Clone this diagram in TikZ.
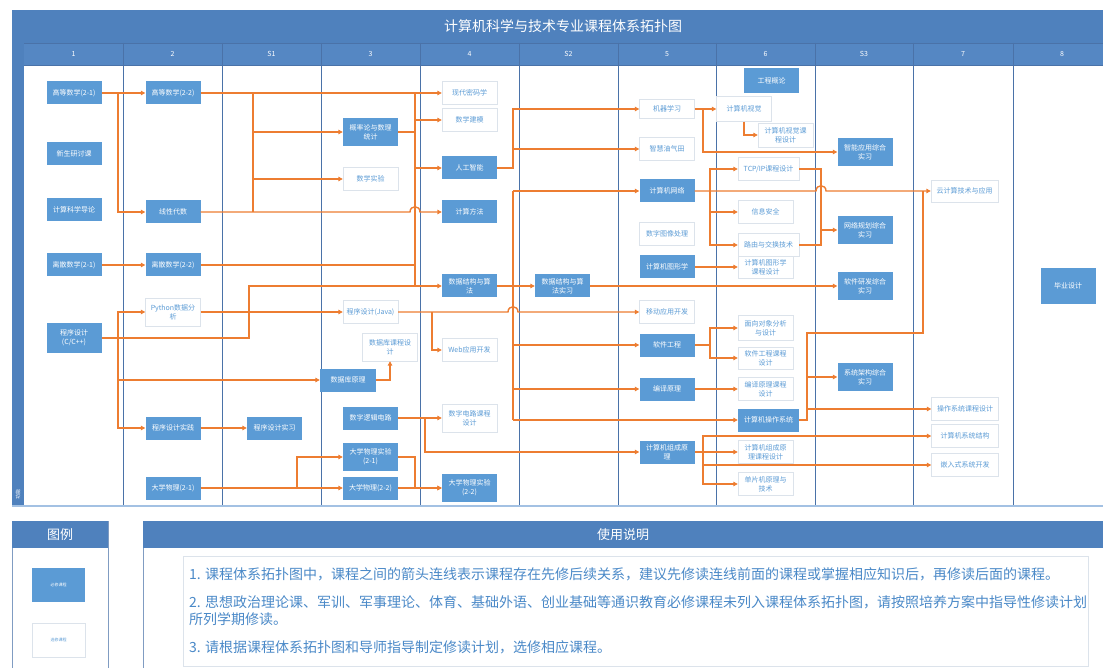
\documentclass[tikz,border=0pt]{standalone}
\usepackage{fontspec}
\setmainfont{Noto Sans CJK SC}
\usepackage{tikz}
\usetikzlibrary{arrows.meta,calc}
\definecolor{TitleBlue}{HTML}{4F81BD}
\definecolor{HeadBlue}{HTML}{5587C3}
\definecolor{CourseBlue}{HTML}{5B9BD5}
\definecolor{NoteBlue}{HTML}{4A89C8}
\definecolor{LinkOrange}{HTML}{ED7D31}
\definecolor{GridBlue}{HTML}{4A72A8}
\definecolor{PaleGray}{HTML}{DCE3EB}
\definecolor{EdgeBlue}{HTML}{A3C1E3}

\begin{document}
\begin{tikzpicture}[x=1pt,y=-1pt,
    req/.style={fill=CourseBlue,text=white,minimum width=55pt,minimum height=23pt,
      inner sep=1pt,align=center,font=\fontsize{7}{9}\selectfont},
    opt/.style={req,fill=white,draw=PaleGray,text=CourseBlue},
    twoline/.style={minimum height=28pt},
    wide/.style={minimum width=61pt},
    wider/.style={minimum width=67pt},
    wire/.style={LinkOrange,line width=1.4pt},
    flow/.style={wire,-{Triangle[length=4.5pt,width=4.5pt]}},
    note/.style={anchor=west,text=NoteBlue,inner sep=0pt,font=\fontsize{14}{16}\selectfont}]
    \useasboundingbox (0,0) rectangle (1103,668);
    % frame
    \fill[TitleBlue] (12,10) rectangle (1103,43);
    \fill[HeadBlue] (24,43) rectangle (1103,65);
    \fill[TitleBlue] (12,43) rectangle (24,506);
    \draw[GridBlue,line width=0.8pt] (24,43) -- (1103,43);
    \draw[GridBlue,line width=0.8pt] (24,65) -- (1103,65);
    \foreach \gx in {123,222,321,420,519,618,716,815,913,1013}
      \draw[GridBlue,line width=0.8pt] (\gx,43) -- (\gx,506);
    \draw[EdgeBlue,line width=2pt] (12,506) -- (1103,506);
    \node[font=\fontsize{14}{16}\selectfont,text=white] (title) at (563,26) {计算机科学与技术专业课程体系拓扑图};
    \foreach \cx/\lab [count=\k] in {73.5/1,172.5/2,271.5/S1,370.5/3,469.5/4,568.5/S2,667/5,765.5/6,864/S3,963/7,1062/8}
      \node[font=\fontsize{7}{8}\selectfont,text=white] (col\k) at (\cx,54) {\lab};
    \node[rotate=90,font=\fontsize{5}{6}\selectfont,text=white,inner sep=0pt] (lane) at (18,494) {功能};

    % courses
    \node[req] (gs21) at (74,93) {高等数学(2-1)};
    \node[req] (xsyt) at (74,154) {新生研讨课};
    \node[req] (jsdl) at (74,210) {计算科学导论};
    \node[req] (lisan21) at (74,265) {离散数学(2-1)};
    \node[req,minimum height=29pt] (cxc) at (74,338) {程序设计\\(C/C++)};
    \node[req] (gs22) at (173,93) {高等数学(2-2)};
    \node[req] (xxds) at (173,212) {线性代数};
    \node[req] (lisan22) at (173,265) {离散数学(2-2)};
    \node[opt,twoline] (python) at (173,312) {Python数据分\\析};
    \node[req] (cxsj) at (173,428) {程序设计实践};
    \node[req] (wl21) at (173,488) {大学物理(2-1)};
    \node[req] (cxsx) at (274.5,428) {程序设计实习};
    \node[req,twoline] (gailv) at (370.5,132) {概率论与数理\\统计};
    \node[opt] (sxsy) at (370.5,179) {数学实验};
    \node[opt] (java) at (370.5,312) {程序设计(Java)};
    \node[opt,twoline] (sjkkc) at (390,347) {数据库课程设\\计};
    \node[req,minimum width=56pt] (sjk) at (348,380) {数据库原理};
    \node[req] (szlj) at (370.5,418) {数字逻辑电路};
    \node[req,twoline] (wlsy21) at (370.5,457) {大学物理实验\\(2-1)};
    \node[req] (wl22) at (370.5,488) {大学物理(2-2)};
    \node[opt] (mima) at (469.5,93) {现代密码学};
    \node[opt] (jianmo) at (469.5,120) {数学建模};
    \node[req] (ai) at (469.5,168) {人工智能};
    \node[req] (jsff) at (469.5,212) {计算方法};
    \node[req] (sjjg) at (469.5,286) {数据结构与算\\法};
    \node[opt] (web) at (469.5,350) {Web应用开发};
    \node[opt,twoline] (szdl) at (469.5,418) {数字电路课程\\设计};
    \node[req,twoline] (wlsy22) at (469.5,488) {大学物理实验\\(2-2)};
    \node[req] (sjjgsx) at (562.5,286) {数据结构与算\\法实习};
    \node[opt,minimum height=19pt] (jqxx) at (667,109) {机器学习};
    \node[opt] (zhyq) at (667,149) {智慧油气田};
    \node[req] (wangluo) at (667,191) {计算机网络};
    \node[opt] (txcl) at (667,234) {数字图像处理};
    \node[req] (txx) at (667,267) {计算机图形学};
    \node[opt] (ydkf) at (667,312) {移动应用开发};
    \node[req] (rjgc) at (667,345) {软件工程};
    \node[req] (byyl) at (667,389) {编译原理};
    \node[req] (zcyl) at (667,452) {计算机组成原\\理};
    \node[req,minimum height=25pt] (gcgl) at (771.5,81) {工程概论};
    \node[opt,minimum height=25pt] (jsjsj) at (744,109) {计算机视觉};
    \node[opt,minimum height=24pt] (sjkc) at (785.5,135) {计算机视觉课\\程设计};
    \node[opt,wide] (tcp) at (768.5,169) {TCP/IP课程设计};
    \node[opt] (aq) at (765.5,212) {信息安全};
    \node[opt,wide] (lyjh) at (768.5,245) {路由与交换技术};
    \node[opt,minimum height=22pt] (txkc) at (765.5,267) {计算机图形学\\课程设计};
    \node[opt,minimum height=25pt] (mxdx) at (765.5,328) {面向对象分析\\与设计};
    \node[opt,minimum height=22pt] (rgkc) at (765.5,358) {软件工程课程\\设计};
    \node[opt] (bykc) at (765.5,389) {编译原理课程\\设计};
    \node[req,wide] (czxt) at (768.5,420) {计算机操作系统};
    \node[opt] (zckc) at (765.5,452) {计算机组成原\\理课程设计};
    \node[opt] (dpj) at (765.5,484) {单片机原理与\\技术};
    \node[req,twoline] (znzh) at (865,152) {智能应用综合\\实习};
    \node[req,twoline] (wgzh) at (865,230) {网络规划综合\\实习};
    \node[req,twoline] (rjzh) at (865,286) {软件研发综合\\实习};
    \node[req,twoline] (xtzh) at (865,377) {系统架构综合\\实习};
    \node[opt,wider,minimum height=22pt] (yun) at (964.5,191) {云计算技术与应用};
    \node[opt,wider] (oskc) at (965,409) {操作系统课程设计};
    \node[opt,wider] (jgjg) at (965,436) {计算机系统结构};
    \node[opt,wider] (qrs) at (965,465) {嵌入式系统开发};
    \node[req,minimum height=36pt] (bysj) at (1068,286) {毕业设计};

    % links
    \coordinate (j1) at (118,93);
    \coordinate (j2) at (118,338);
    \coordinate (j3) at (249,338);
    \coordinate (j4) at (297,488);
    \draw[flow] (gs21.east) -- (gs22.west);
    \draw[flow] (j1) |- (xxds.west);
    \draw[flow] (lisan21.east) -- (lisan22.west);
    \draw[flow] (cxc.east) -- (j3) |- (sjjg.west);
    \draw[flow] (j2) |- (python.west);
    \draw[flow] (j2) |- (sjk.west);
    \draw[flow] (j2) |- (cxsj.west);
    \draw[flow] (cxsj.east) -- (cxsx.west);
    \draw[flow] (wl21.east) -- (wl22.west);
    \draw[flow] (j4) |- (wlsy21.west);

    \coordinate (j5) at (253,93);
    \coordinate (j6) at (253,212);
    \coordinate (j7) at (415,93);
    \coordinate (j8) at (415,286);
    \coordinate (hop1) at (415,212);
    \draw[flow] (gs22.east) -- (mima.west);
    \draw[wire] (j5) -- (j6);
    \draw[flow] (j5 |- gailv) -- (gailv.west);
    \draw[flow] (j5 |- sxsy) -- (sxsy.west);
    \draw[wire] (j7) -- (j8);
    \draw[flow] (xxds.east) -- ($(hop1)+(-5,0)$) .. controls +(0,-7) and +(0,-7) .. ($(hop1)+(5,0)$) -- (jsff.west);
    \draw[wire] (gailv.east) -- (gailv.east -| j7);
    \draw[wire] (lisan22.east) -- (lisan22.east -| j7);
    \draw[flow] (j7 |- jianmo) -- (jianmo.west);
    \draw[flow] (j7 |- ai) -- (ai.west);

    \coordinate (j9) at (432,312);
    \coordinate (j10) at (425,418);
    \coordinate (j11) at (415,488);
    \coordinate (hop2) at (513,312);
    \draw[flow] (python.east) -- (java.west);
    \draw[flow] (j9) |- (web.west);
    \draw[flow] (sjk.east) -| (sjkkc.south);
    \draw[flow] (szlj.east) -- (szdl.west);
    \draw[flow] (j10) |- (zcyl.west);
    \draw[flow] (wlsy21.east) -| (j11) -- (wlsy22.west);
    \draw[flow] (wl22.east) -- (wlsy22.west);

    \coordinate (j12) at (513,168);
    \coordinate (j13) at (513,191);
    \coordinate (j14) at (513,420);
    \draw[flow] (ai.east) -- (j12) |- (jqxx.west);
    \draw[flow] (j12) |- (zhyq.west);
    \draw[flow] (sjjg.east) -- (sjjgsx.west);
    \draw[wire] (j13) -- (j14);
    \draw[flow] (java.east) -- ($(hop2)+(-5,0)$) .. controls +(0,-7) and +(0,-7) .. ($(hop2)+(5,0)$) -- (ydkf.west);
    \draw[flow] (j13) -- (wangluo.west);
    \draw[flow] (j13 |- rjgc) -- (rjgc.west);
    \draw[flow] (j13 |- byyl) -- (byyl.west);
    \draw[flow] (j14) -- (czxt.west);
    \draw[flow] (sjjgsx.east) -- (rjzh.west);

    \coordinate (j15) at (703,109);
    \coordinate (j16) at (710,191);
    \coordinate (j17) at (821,230);
    \coordinate (hop3) at (821,191);
    \draw[flow] (jqxx.east) -- (jsjsj.west);
    \draw[flow] (j15) |- (znzh.west);
    \draw[flow] (jsjsj.south) |- (sjkc.west);
    \draw[flow] (j16) |- (tcp.west);
    \draw[flow] (j16) |- (aq.west);
    \draw[flow] (j16) |- (lyjh.west);
    \draw[wire] (tcp.east) -| (j17);
    \draw[wire] (lyjh.east) -| (j17);
    \draw[flow] (j17) -- (wgzh.west);
    \draw[flow] (txx.east) -- (txkc.west);

    \coordinate (j18) at (710,345);
    \coordinate (j19) at (807,420);
    \coordinate (j20) at (923,333);
    \coordinate (j21) at (703,452);
    \draw[flow] (rjgc.east) -- (j18) |- (mxdx.west);
    \draw[flow] (j18) |- (rgkc.west);
    \draw[flow] (byyl.east) -- (bykc.west);
    \draw[wire] (czxt.east) -- (j19) |- (j20) -- (j20 |- yun);
    \draw[flow] (wangluo.east) -- ($(hop3)+(-5,0)$) .. controls +(0,-7) and +(0,-7) .. ($(hop3)+(5,0)$) -- (yun.west);
    \draw[flow] (j19 |- xtzh) -- (xtzh.west);
    \draw[flow] (j19 |- oskc) -- (oskc.west);
    \draw[flow] (zcyl.east) -- (zckc.west);
    \draw[flow] (j21) |- (jgjg.west);
    \draw[flow] (j21) |- (qrs.west);
    \draw[flow] (j21) |- (dpj.west);

    % legend and notes
    \draw[GridBlue!70,fill=white] (12,521) rectangle (108,690);
    \fill[TitleBlue] (12,521) rectangle (108,548);
    \node[font=\fontsize{13}{15}\selectfont,text=white] (legend) at (60,534.5) {图例};
    \node[req,minimum width=53pt,minimum height=34pt,font=\fontsize{4}{5}\selectfont] (keyreq) at (58.5,585) {必修课程};
    \node[opt,minimum width=53pt,minimum height=34pt,font=\fontsize{4}{5}\selectfont] (keyopt) at (58.5,640) {选修课程};
    \draw[GridBlue!70,fill=white] (143,521) rectangle (1115,690);
    \fill[TitleBlue] (143,521) rectangle (1115,548);
    \node[font=\fontsize{13}{15}\selectfont,text=white] (usage) at (623,534.5) {使用说明};
    \draw[PaleGray] (183,556) rectangle (1088,666);
    \node[note] (note1) at (189,574) {1. 课程体系拓扑图中，课程之间的箭头连线表示课程存在先修后续关系，建议先修读连线前面的课程或掌握相应知识后，再修读后面的课程。};
    \node[note] (note2) at (189,602) {2. 思想政治理论课、军训、军事理论、体育、基础外语、创业基础等通识教育必修课程未列入课程体系拓扑图，请按照培养方案中指导性修读计划};
    \node[note] (note2b) at (189,619) {所列学期修读。};
    \node[note] (note3) at (189,647) {3. 请根据课程体系拓扑图和导师指导制定修读计划，选修相应课程。};
  \end{tikzpicture}
\end{document}
